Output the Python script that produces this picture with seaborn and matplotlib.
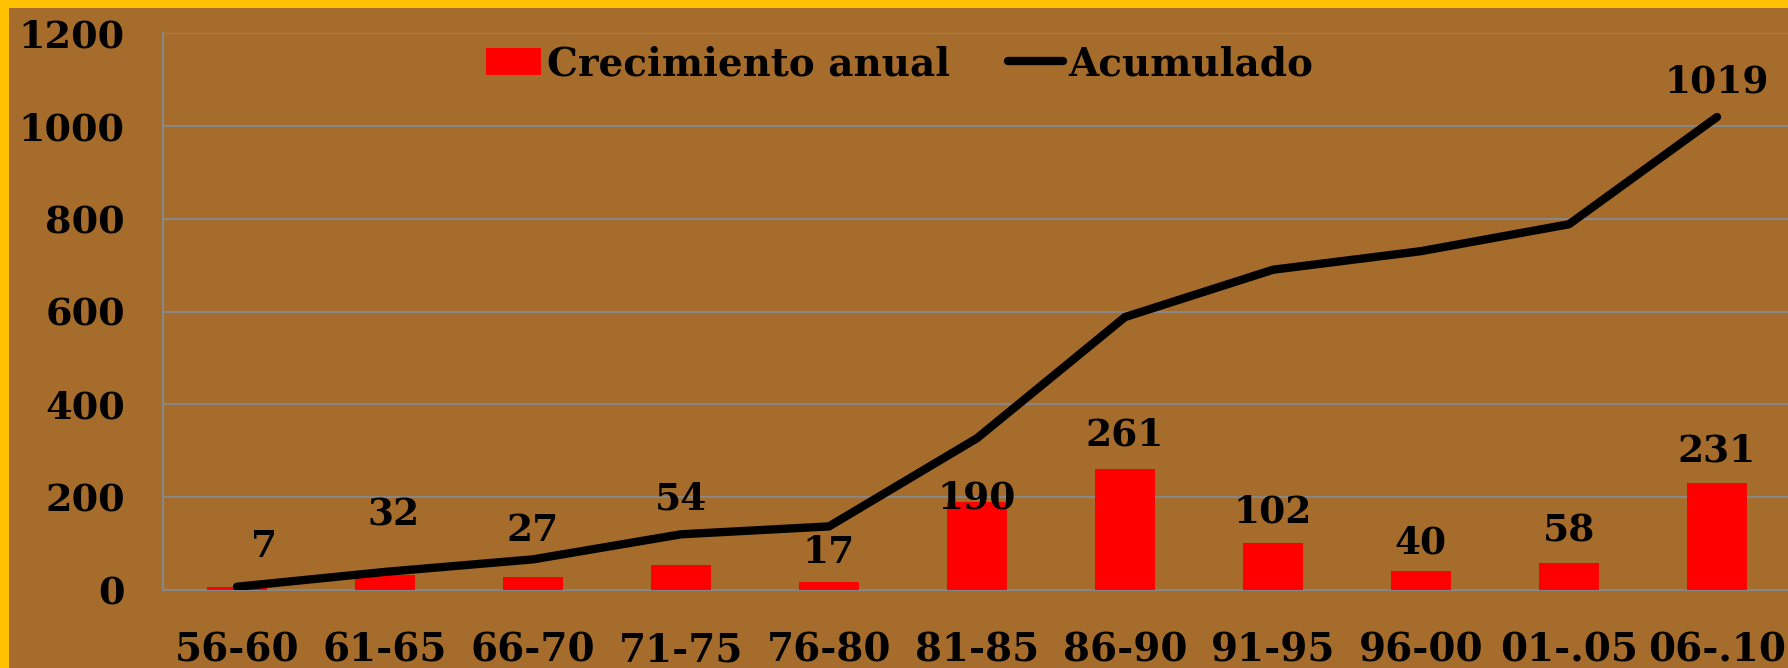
import numpy as np
import pandas as pd
import matplotlib
matplotlib.use('Agg')
import matplotlib.pyplot as plt
from matplotlib.patches import Rectangle
import seaborn as sns

# Data
periods = ['56-60', '61-65', '66-70', '71-75', '76-80', '81-85',
           '86-90', '91-95', '96-00', '01-.05', '06-.10']
annual = [7, 32, 27, 54, 17, 190, 261, 102, 40, 58, 231]
cumulative = [7, 39, 66, 120, 137, 327, 588, 690, 730, 788, 1019]

# where the value labels sit (data units), as placed in the original
label_y = [93, 161, 128, 196, 80, 198, 333, 169, 101, 128, 299]
label_dx = [0.18, 0.06, 0, 0, 0, 0, 0, 0, 0, 0, 0]
last_label_y = 1095

yticks = [0, 200, 400, 600, 800, 1000, 1200]

BROWN = '#A66C2C'
YELLOW = '#FFC000'
GRID = '#878787'

sns.set_style('white')
plt.rcParams['font.family'] = ['DejaVu Serif']
plt.rcParams['font.weight'] = 'bold'
plt.rcParams['text.color'] = 'black'
plt.rcParams['xtick.color'] = 'black'
plt.rcParams['ytick.color'] = 'black'

fig = plt.figure(figsize=(17.88, 6.68), dpi=100)
fig.patch.set_facecolor(YELLOW)
# brown slide area, the yellow frame only shows top and left
fig.patches.append(Rectangle((9 / 1788, 0), 1, 1 - 7.5 / 668,
                             transform=fig.transFigure, facecolor=BROWN,
                             edgecolor='none', zorder=-10))

ax = fig.add_axes([163 / 1788, 78 / 668, 1628 / 1788, 557 / 668])
ax.set_facecolor(BROWN)

df = pd.DataFrame({'periodo': periods, 'anual': annual})
sns.barplot(data=df, x='periodo', y='anual', color='#FF0000', saturation=1,
            width=0.4, label='Crecimiento anual', ax=ax, zorder=3,
            linewidth=0, edgecolor='none')
sns.lineplot(x=np.arange(len(periods)), y=cumulative, color='black',
             linewidth=6, label='Acumulado', ax=ax, zorder=4,
             solid_capstyle='round')

for i, (v, ly, dx) in enumerate(zip(annual, label_y, label_dx)):
    ax.text(i + dx, ly, str(v), ha='center', va='center', fontsize=27,
            fontweight='bold', color='black', zorder=5)
ax.text(len(periods) - 1, last_label_y, str(cumulative[-1]), ha='center',
        va='center', fontsize=27, fontweight='bold', color='black', zorder=5)

ax.set_xlim(-0.5, len(periods) - 0.5)
ax.set_ylim(0, 1200)
ax.set_yticks(yticks)
ax.set_yticklabels([str(t) for t in yticks])
ax.set_xlabel('')
ax.set_ylabel('')

ax.yaxis.grid(True, color=GRID, linewidth=1.5, zorder=1)
ax.set_axisbelow(True)
for side in ['top', 'right']:
    ax.spines[side].set_visible(False)
for side in ['left', 'bottom']:
    ax.spines[side].set_color(GRID)
    ax.spines[side].set_linewidth(1.5)

# tick marks between categories on x, plain labels at the centres
ax.set_xticks(np.arange(-0.5, len(periods), 1), minor=True)
ax.tick_params(axis='x', which='major', length=0, pad=30, labelsize=28,
               labelcolor='black')
ax.tick_params(axis='x', which='minor', length=9.5, width=1.5, color=GRID)
ax.tick_params(axis='y', length=9.5, width=1.5, color=GRID, pad=18,
               labelsize=27.5, labelcolor='black')
for lab in ax.get_xticklabels() + ax.get_yticklabels():
    lab.set_fontweight('bold')

handles, labels = ax.get_legend_handles_labels()
order = [labels.index('Crecimiento anual'), labels.index('Acumulado')]
leg = ax.legend([handles[k] for k in order], [labels[k] for k in order],
                loc='center', bbox_to_anchor=(0.4527, 1 - 31 / 557), ncol=2,
                frameon=False, handlelength=1.4, handletextpad=0.15,
                columnspacing=1.5, labelcolor='black',
                prop={'weight': 'bold', 'size': 28})

fig.savefig('out.png', dpi=100, facecolor=fig.get_facecolor())
